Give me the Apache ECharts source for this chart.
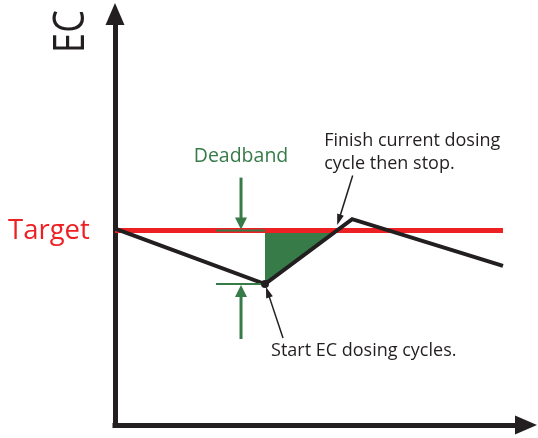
<!DOCTYPE html>
<html>
<head>
<meta charset="utf-8">
<script src="https://cdn.jsdelivr.net/npm/echarts@6/dist/echarts.min.js"></script>
<style>
  html, body { margin: 0; padding: 0; background: #fff; }
  #chart { width: 538px; height: 438px; }
</style>
</head>
<body>
<div id="chart"></div>
<script>
// EC reading over time (arbitrary units on both axes)
const timeSteps = [0, 36.5, 57.7, 94.4];
const ecLevels = [47.8, 34.3, 50.1, 38.7];

// EC set point and how far below it the reading may fall before dosing starts
const targetEC = 47.3;
const deadband = 13.0;

// Text drawn on the diagram
const axisTitle = 'EC';
const targetLabel = 'Target';
const deadbandLabel = 'Deadband';
const finishNote = ['Finish current dosing', 'cycle then stop.'];
const startNote = ['Start EC dosing cycles.'];

const INK = '#231f20';
const RED = '#ed2024';
const GREEN = '#367b48';
const FONT = '"Open Sans", "Noto Sans", sans-serif';

// Lowest reading: where dosing starts
let lowIdx = 0;
ecLevels.forEach((v, i) => { if (v < ecLevels[lowIdx]) lowIdx = i; });
const lowTime = timeSteps[lowIdx];
const lowEC = targetEC - deadband;

// Where the rising reading gets back to the target: dosing finishes
let crossTime = timeSteps[timeSteps.length - 1];
for (let i = lowIdx; i < timeSteps.length - 1; i++) {
  const a = ecLevels[i], b = ecLevels[i + 1];
  if (a <= targetEC && b >= targetEC) {
    const t = (targetEC - a) / (b - a);
    crossTime = timeSteps[i] + t * (timeSteps[i + 1] - timeSteps[i]);
    break;
  }
}

const curve = timeSteps.map((t, i) => [t, ecLevels[i]]);
const targetLine = [[timeSteps[0], targetEC], [timeSteps[timeSteps.length - 1], targetEC]];

function arrowHead(tip, dir, len, halfW, fill) {
  // dir: unit vector pointing from tail towards tip
  const bx = tip[0] - dir[0] * len, by = tip[1] - dir[1] * len;
  const nx = -dir[1], ny = dir[0];
  return {
    type: 'polygon',
    shape: { points: [tip, [bx + nx * halfW, by + ny * halfW], [bx - nx * halfW, by - ny * halfW]] },
    style: { fill: fill }
  };
}

function arrow(tail, tip, color, width, headLen, headHalfW) {
  const dx = tip[0] - tail[0], dy = tip[1] - tail[1];
  const d = Math.hypot(dx, dy);
  const dir = [dx / d, dy / d];
  const end = [tip[0] - dir[0] * headLen * 0.8, tip[1] - dir[1] * headLen * 0.8];
  return [
    { type: 'line', shape: { x1: tail[0], y1: tail[1], x2: end[0], y2: end[1] },
      style: { stroke: color, lineWidth: width } },
    arrowHead(tip, dir, headLen, headHalfW, color)
  ];
}

const chart = echarts.init(document.getElementById('chart'), null, { renderer: 'canvas' });

const axisLineCommon = {
  show: true,
  symbol: ['none', 'triangle'],
  symbolSize: [19, 22],
  lineStyle: { color: INK, width: 5, cap: 'square' }
};

chart.setOption({
  animation: false,
  backgroundColor: '#ffffff',
  grid: { left: 115, right: 12, top: 14, bottom: 13, containLabel: false },
  xAxis: {
    type: 'value', min: 0, max: 100,
    axisLine: axisLineCommon,
    axisTick: { show: false }, axisLabel: { show: false }, splitLine: { show: false }
  },
  yAxis: {
    type: 'value', min: 0, max: 100,
    axisLine: axisLineCommon,
    axisTick: { show: false }, axisLabel: { show: false }, splitLine: { show: false }
  },
  series: [
    {
      // deadband area between the target and the falling reading
      type: 'custom', z: 1, silent: true,
      data: [[lowTime, lowEC]],
      renderItem: function (params, api) {
        const low = api.coord([lowTime, lowEC]);
        const top = api.coord([lowTime, targetEC]);
        const cross = api.coord([crossTime, targetEC]);
        return { type: 'polygon', shape: { points: [low, top, cross] }, style: { fill: GREEN } };
      }
    },
    {
      type: 'line', z: 2, silent: true,
      data: targetLine, symbol: 'none',
      lineStyle: { color: RED, width: 5 }
    },
    {
      type: 'line', z: 3, silent: true,
      data: curve, symbol: 'none',
      lineStyle: { color: INK, width: 4, join: 'miter' }
    },
    {
      // dot where dosing starts
      type: 'scatter', z: 5, silent: true,
      data: [[lowTime, ecLevels[lowIdx]]],
      symbol: 'circle', symbolSize: 8,
      itemStyle: { color: INK, opacity: 1 }
    },
    {
      // deadband markers and notes
      type: 'custom', z: 4, silent: true,
      data: [[lowTime, lowEC]],
      renderItem: function (params, api) {
        const L = api.coord([lowTime, lowEC]);
        const T = api.coord([lowTime, targetEC]);
        const C = api.coord([crossTime, targetEC]);
        const ax = L[0] - 24;
        const children = [
          { type: 'line', shape: { x1: L[0] - 49, y1: T[1], x2: L[0], y2: T[1] },
            style: { stroke: GREEN, lineWidth: 2 } },
          { type: 'line', shape: { x1: L[0] - 49, y1: L[1], x2: L[0], y2: L[1] },
            style: { stroke: GREEN, lineWidth: 2 } }
        ]
          .concat(arrow([ax, T[1] - 53], [ax, T[1] - 1], GREEN, 3, 12, 6))
          .concat(arrow([ax, L[1] + 55], [ax, L[1] + 1], GREEN, 3, 12, 6))
          .concat(arrow([C[0] + 16, C[1] - 55], [C[0] + 0.5, C[1] - 5.5], INK, 1.5, 11, 3.5))
          .concat(arrow([L[0] + 18, L[1] + 54], [L[0] + 1, L[1] + 3], INK, 1.5, 11, 3.5));
        children.push(
          { type: 'text', x: ax, y: T[1] - 74,
            style: { text: deadbandLabel, font: '19.5px ' + FONT, fill: GREEN, align: 'center', verticalAlign: 'middle' } },
          { type: 'text', x: C[0] - 12.5, y: C[1] - 101,
            style: { text: finishNote.join('\n'), font: '18px ' + FONT, lineHeight: 23, fill: INK, align: 'left', verticalAlign: 'top' } },
          { type: 'text', x: L[0] + 6, y: L[1] + 67,
            style: { text: startNote.join('\n'), font: '18px ' + FONT, fill: INK, align: 'left', verticalAlign: 'middle' } }
        );
        return { type: 'group', children: children };
      }
    }
  ]
});

// Axis title and the target label left of the vertical axis, level with the set point
const targetY = chart.convertToPixel({ gridIndex: 0 }, [0, targetEC])[1];
chart.setOption({
  graphic: [
    {
      type: 'text', x: 71, y: 31.5, rotation: Math.PI / 2, scaleX: 0.82,
      style: { text: axisTitle, font: '44px ' + FONT, fill: INK, align: 'center', verticalAlign: 'middle' }
    },
    {
      type: 'text', x: 8, y: targetY + 1,
      style: { text: targetLabel, font: '27.5px ' + FONT, fill: RED, align: 'left', verticalAlign: 'middle' }
    }
  ]
});
</script>
</body>
</html>
